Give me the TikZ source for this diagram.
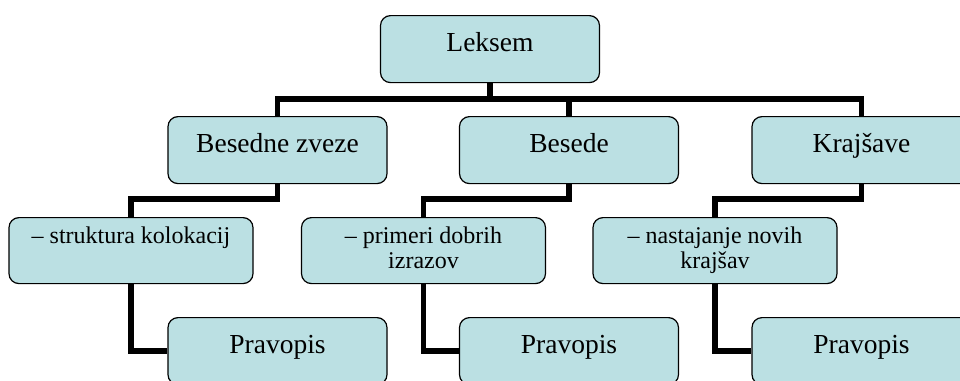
\documentclass[tikz,border=0pt]{standalone}
\usepackage{fontspec}
\setmainfont{Liberation Serif}
\definecolor{boxfill}{RGB}{187,224,227}
\tikzset{
mainbox/.style={
  draw=black,
  line width=1.2pt,
  fill=boxfill,
  rounded corners=10pt,
  anchor=north,
  inner xsep=0pt,
  inner ysep=0pt,
  minimum width=219pt,
  text height=36pt,
  text depth=31pt,
  font=\fontsize{27.5}{30}\selectfont,
  }
}
\tikzset{
subbox/.style={
  mainbox,
  minimum width=244pt,
  text height=26pt,
  text depth=40pt,
  font=\fontsize{24}{25}\selectfont,
  }
}
\tikzset{
conn/.style={
  line width=5.5pt,
  draw=black,
  }
}
\newcommand{\toptext}[1]{\parbox[t]{230pt}{\centering #1}}

\begin{document}
\begin{tikzpicture}[x=1pt,y=-1pt]
    \path[use as bounding box] (0,0) rectangle (960,380);
    \clip (0,0) rectangle (960,380);

    % top
    \node[mainbox] (leksem) at (490,15) {Leksem};

    % second row
    \node[mainbox] (besedne) at (277.5,116) {Besedne zveze};
    \node[mainbox] (besede) at (569,116) {Besede};
    \node[mainbox] (krajsave) at (861.5,116) {Krajšave};

    % third row
    \node[subbox] (struktura) at (131,217) {\toptext{– struktura kolokacij}};
    \node[subbox] (primeri) at (423.5,217) {\toptext{– primeri dobrih\\izrazov}};
    \node[subbox] (nastajanje) at (715,217) {\toptext{– nastajanje novih\\krajšav}};

    % bottom row
    \node[mainbox] (prav1) at (277.5,317) {Pravopis};
    \node[mainbox] (prav2) at (569,317) {Pravopis};
    \node[mainbox] (prav3) at (861.5,317) {Pravopis};

    % top edges
    \coordinate (hub) at (490,99);
    \draw[conn] (leksem.south) -- (hub);
    \draw[conn] (besedne.north) |- (hub) -| (krajsave.north);
    \draw[conn] (hub -| besede.north) -- (besede.north);

    % middle edges
    \coordinate (row2) at (0,199);
    \draw[conn] (besedne.south) -- (besedne.south |- row2) -| (struktura.north);
    \draw[conn] (besede.south) -- (besede.south |- row2) -| (primeri.north);
    \draw[conn] (krajsave.south) -- (krajsave.south |- row2) -| (nastajanje.north);

    % bottom edges
    \draw[conn] (struktura.south) |- (prav1.west);
    \draw[conn] (primeri.south) |- (prav2.west);
    \draw[conn] (nastajanje.south) |- (prav3.west);
\end{tikzpicture}
\end{document}
